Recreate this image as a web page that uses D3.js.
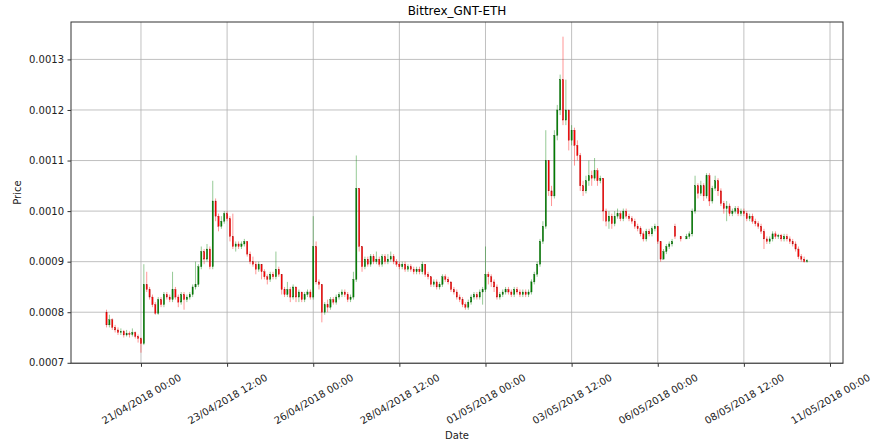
<!DOCTYPE html>
<html><head><meta charset="utf-8">
<script src="https://cdn.jsdelivr.net/npm/d3@7"></script>
<style>body{margin:0;background:#fff}</style>
</head><body>
<svg id="chart" width="873" height="444"></svg>
<script>
// 2-hour candles starting 20/04/2018 00:00 (UTC)
const startTime = Date.UTC(2018, 3, 20, 0, 0);
const stepHours = 2;

const opens = [8.0e-4,7.75e-4,7.85e-4,7.7e-4,7.65e-4,7.6e-4,7.62e-4,7.55e-4,7.58e-4,7.56e-4,7.6e-4,7.52e-4,7.48e-4,7.38e-4,8.55e-4,8.45e-4,8.3e-4,8.15e-4,7.98e-4,8.25e-4,8.15e-4,8.35e-4,8.3e-4,8.25e-4,8.45e-4,8.3e-4,8.2e-4,8.35e-4,8.25e-4,8.3e-4,8.35e-4,8.5e-4,8.55e-4,8.9e-4,9.2e-4,9.05e-4,9.25e-4,8.9e-4,10.2e-4,9.9e-4,9.7e-4,9.8e-4,9.95e-4,9.85e-4,9.5e-4,9.3e-4,9.35e-4,9.3e-4,9.35e-4,9.4e-4,9.15e-4,9.0e-4,8.95e-4,8.85e-4,8.95e-4,8.8e-4,8.7e-4,8.65e-4,8.75e-4,8.7e-4,8.85e-4,8.75e-4,8.45e-4,8.35e-4,8.45e-4,8.3e-4,8.5e-4,8.3e-4,8.4e-4,8.25e-4,8.35e-4,8.4e-4,8.3e-4,9.3e-4,8.6e-4,8.55e-4,8.0e-4,8.15e-4,8.1e-4,8.25e-4,8.2e-4,8.3e-4,8.35e-4,8.4e-4,8.35e-4,8.25e-4,8.3e-4,8.65e-4,10.45e-4,9.3e-4,8.9e-4,9.05e-4,8.95e-4,9.1e-4,9.0e-4,9.05e-4,8.95e-4,9.1e-4,9.0e-4,9.05e-4,9.1e-4,9.0e-4,8.95e-4,8.9e-4,8.95e-4,8.85e-4,8.9e-4,8.85e-4,8.8e-4,8.85e-4,8.8e-4,8.95e-4,8.75e-4,8.7e-4,8.55e-4,8.6e-4,8.5e-4,8.55e-4,8.7e-4,8.65e-4,8.6e-4,8.45e-4,8.4e-4,8.3e-4,8.25e-4,8.15e-4,8.1e-4,8.2e-4,8.3e-4,8.35e-4,8.3e-4,8.4e-4,8.45e-4,8.75e-4,8.7e-4,8.6e-4,8.5e-4,8.3e-4,8.35e-4,8.4e-4,8.45e-4,8.4e-4,8.35e-4,8.45e-4,8.4e-4,8.35e-4,8.4e-4,8.35e-4,8.4e-4,8.6e-4,8.75e-4,8.95e-4,9.4e-4,9.7e-4,11.0e-4,10.4e-4,10.3e-4,11.5e-4,12.0e-4,12.6e-4,11.8e-4,12.0e-4,11.4e-4,11.6e-4,11.3e-4,11.1e-4,10.5e-4,10.4e-4,10.6e-4,10.7e-4,10.65e-4,10.8e-4,10.6e-4,10.65e-4,10.0e-4,9.8e-4,9.9e-4,9.75e-4,9.9e-4,9.95e-4,9.85e-4,10.0e-4,9.9e-4,9.85e-4,9.8e-4,9.7e-4,9.65e-4,9.55e-4,9.45e-4,9.6e-4,9.55e-4,9.65e-4,9.7e-4,9.4e-4,9.05e-4,9.2e-4,9.3e-4,9.35e-4,9.7e-4,null,9.5e-4,null,9.45e-4,9.5e-4,9.55e-4,10.0e-4,10.5e-4,10.35e-4,10.5e-4,10.3e-4,10.7e-4,10.2e-4,10.45e-4,10.6e-4,10.4e-4,10.15e-4,10.05e-4,10.1e-4,9.95e-4,10.0e-4,10.05e-4,9.95e-4,10.0e-4,9.95e-4,9.85e-4,9.9e-4,9.8e-4,9.75e-4,9.7e-4,9.6e-4,9.45e-4,9.4e-4,9.45e-4,9.55e-4,9.5e-4,9.52e-4,9.45e-4,9.5e-4,9.45e-4,9.4e-4,9.35e-4,9.25e-4,9.1e-4,9.05e-4,9.0e-4];

const highs = [8.05e-4,7.95e-4,7.88e-4,7.75e-4,7.7e-4,7.68e-4,7.65e-4,7.65e-4,7.62e-4,7.68e-4,7.62e-4,7.56e-4,7.5e-4,8.95e-4,8.8e-4,8.5e-4,8.35e-4,8.2e-4,8.3e-4,8.3e-4,8.4e-4,8.4e-4,8.35e-4,8.8e-4,8.5e-4,8.35e-4,8.4e-4,8.4e-4,8.35e-4,8.4e-4,8.55e-4,9.0e-4,8.95e-4,9.3e-4,9.25e-4,9.35e-4,9.3e-4,10.6e-4,10.25e-4,9.95e-4,9.9e-4,10.0e-4,10.0e-4,9.9e-4,9.95e-4,9.4e-4,9.4e-4,9.4e-4,9.45e-4,9.4e-4,9.2e-4,9.1e-4,9.0e-4,9.0e-4,8.95e-4,8.85e-4,8.75e-4,8.8e-4,8.8e-4,9.2e-4,8.9e-4,8.75e-4,8.5e-4,8.6e-4,8.5e-4,8.55e-4,8.5e-4,8.45e-4,8.4e-4,8.4e-4,8.45e-4,8.45e-4,9.9e-4,9.4e-4,8.65e-4,8.55e-4,8.2e-4,8.25e-4,8.3e-4,8.3e-4,8.35e-4,8.4e-4,8.45e-4,8.45e-4,8.4e-4,8.35e-4,8.8e-4,11.1e-4,10.45e-4,9.3e-4,9.1e-4,9.1e-4,9.15e-4,9.15e-4,9.2e-4,9.1e-4,9.15e-4,9.15e-4,9.15e-4,9.2e-4,9.15e-4,9.05e-4,9.0e-4,9.0e-4,9.0e-4,8.95e-4,8.95e-4,8.9e-4,8.9e-4,8.9e-4,9.0e-4,8.95e-4,8.8e-4,8.7e-4,8.65e-4,8.65e-4,8.6e-4,8.75e-4,8.75e-4,8.7e-4,8.6e-4,8.5e-4,8.45e-4,8.35e-4,8.3e-4,8.2e-4,8.25e-4,8.35e-4,8.4e-4,8.4e-4,8.45e-4,8.5e-4,9.3e-4,8.8e-4,8.75e-4,8.65e-4,8.55e-4,8.4e-4,8.45e-4,8.5e-4,8.5e-4,8.45e-4,8.5e-4,8.5e-4,8.45e-4,8.45e-4,8.45e-4,8.45e-4,8.65e-4,8.8e-4,9.0e-4,9.45e-4,9.8e-4,11.6e-4,11.0e-4,10.5e-4,11.6e-4,12.1e-4,12.7e-4,13.45e-4,12.6e-4,12.0e-4,11.7e-4,11.65e-4,11.4e-4,11.15e-4,10.6e-4,10.7e-4,11.0e-4,10.8e-4,11.05e-4,10.85e-4,10.7e-4,10.65e-4,10.05e-4,10.0e-4,9.95e-4,10.0e-4,10.05e-4,10.0e-4,10.05e-4,10.05e-4,9.95e-4,9.9e-4,9.85e-4,9.75e-4,9.7e-4,9.6e-4,9.65e-4,9.65e-4,9.7e-4,9.75e-4,9.7e-4,9.4e-4,9.25e-4,9.35e-4,9.4e-4,9.45e-4,9.75e-4,null,9.5e-4,null,9.55e-4,9.6e-4,10.05e-4,10.7e-4,10.55e-4,10.6e-4,10.55e-4,10.75e-4,10.75e-4,10.5e-4,10.7e-4,10.65e-4,10.45e-4,10.2e-4,10.2e-4,10.15e-4,10.05e-4,10.1e-4,10.1e-4,10.05e-4,10.05e-4,10.0e-4,9.95e-4,9.95e-4,9.85e-4,9.8e-4,9.75e-4,9.65e-4,9.5e-4,9.5e-4,9.6e-4,9.6e-4,9.55e-4,9.55e-4,9.55e-4,9.55e-4,9.5e-4,9.45e-4,9.4e-4,9.3e-4,9.15e-4,9.1e-4,9.05e-4];

const lows = [7.7e-4,7.7e-4,7.65e-4,7.6e-4,7.55e-4,7.55e-4,7.5e-4,7.52e-4,7.5e-4,7.52e-4,7.48e-4,7.4e-4,7.2e-4,7.35e-4,8.4e-4,8.25e-4,8.1e-4,7.95e-4,7.95e-4,8.1e-4,8.1e-4,8.25e-4,8.2e-4,8.2e-4,8.25e-4,8.1e-4,8.15e-4,8.05e-4,8.2e-4,8.25e-4,8.3e-4,8.45e-4,8.5e-4,8.85e-4,8.95e-4,9.0e-4,8.85e-4,8.85e-4,9.8e-4,9.6e-4,9.65e-4,9.75e-4,9.8e-4,9.4e-4,9.25e-4,9.2e-4,9.25e-4,9.25e-4,9.3e-4,9.1e-4,8.95e-4,8.9e-4,8.75e-4,8.8e-4,8.65e-4,8.65e-4,8.55e-4,8.6e-4,8.65e-4,8.65e-4,8.7e-4,8.35e-4,8.3e-4,8.3e-4,8.2e-4,8.25e-4,8.2e-4,8.2e-4,8.2e-4,8.2e-4,8.3e-4,8.25e-4,8.25e-4,8.55e-4,8.45e-4,7.8e-4,7.95e-4,8.0e-4,8.05e-4,8.15e-4,8.15e-4,8.25e-4,8.3e-4,8.3e-4,8.2e-4,8.2e-4,8.25e-4,8.6e-4,9.2e-4,8.8e-4,8.85e-4,8.9e-4,8.9e-4,8.95e-4,8.95e-4,8.9e-4,8.9e-4,8.95e-4,8.95e-4,9.0e-4,8.95e-4,8.9e-4,8.85e-4,8.85e-4,8.8e-4,8.8e-4,8.8e-4,8.75e-4,8.75e-4,8.75e-4,8.75e-4,8.7e-4,8.65e-4,8.5e-4,8.5e-4,8.45e-4,8.45e-4,8.5e-4,8.6e-4,8.55e-4,8.4e-4,8.35e-4,8.25e-4,8.2e-4,8.1e-4,8.05e-4,8.05e-4,8.15e-4,8.25e-4,8.25e-4,8.25e-4,8.15e-4,8.4e-4,8.55e-4,8.5e-4,8.4e-4,8.25e-4,8.25e-4,8.3e-4,8.35e-4,8.35e-4,8.3e-4,8.3e-4,8.35e-4,8.3e-4,8.3e-4,8.3e-4,8.3e-4,8.35e-4,8.55e-4,8.7e-4,8.9e-4,9.35e-4,9.65e-4,10.3e-4,10.1e-4,10.25e-4,11.4e-4,11.9e-4,11.7e-4,11.7e-4,11.2e-4,11.3e-4,10.9e-4,11.0e-4,10.4e-4,10.3e-4,10.35e-4,10.5e-4,10.5e-4,10.6e-4,10.5e-4,10.55e-4,9.8e-4,9.7e-4,9.65e-4,9.65e-4,9.7e-4,9.85e-4,9.8e-4,9.8e-4,9.85e-4,9.8e-4,9.75e-4,9.65e-4,9.6e-4,9.5e-4,9.4e-4,9.4e-4,9.5e-4,9.5e-4,9.6e-4,9.35e-4,9.0e-4,9.05e-4,9.15e-4,9.25e-4,9.3e-4,9.45e-4,null,9.4e-4,null,9.45e-4,9.45e-4,9.5e-4,9.95e-4,10.25e-4,10.3e-4,10.2e-4,10.25e-4,10.1e-4,10.15e-4,10.4e-4,10.3e-4,10.1e-4,9.95e-4,9.8e-4,9.9e-4,9.9e-4,9.95e-4,9.9e-4,9.9e-4,9.9e-4,9.8e-4,9.8e-4,9.75e-4,9.7e-4,9.65e-4,9.55e-4,9.25e-4,9.35e-4,9.35e-4,9.4e-4,9.45e-4,9.45e-4,9.4e-4,9.4e-4,9.4e-4,9.35e-4,9.3e-4,9.2e-4,9.05e-4,9.0e-4,8.98e-4,8.98e-4];

const closes = [7.75e-4,7.85e-4,7.7e-4,7.65e-4,7.6e-4,7.62e-4,7.55e-4,7.58e-4,7.56e-4,7.6e-4,7.52e-4,7.48e-4,7.38e-4,8.55e-4,8.45e-4,8.3e-4,8.15e-4,7.98e-4,8.25e-4,8.15e-4,8.35e-4,8.3e-4,8.25e-4,8.45e-4,8.3e-4,8.2e-4,8.35e-4,8.25e-4,8.3e-4,8.35e-4,8.5e-4,8.55e-4,8.9e-4,9.2e-4,9.05e-4,9.25e-4,8.9e-4,10.2e-4,9.9e-4,9.7e-4,9.8e-4,9.95e-4,9.85e-4,9.5e-4,9.3e-4,9.35e-4,9.3e-4,9.35e-4,9.4e-4,9.15e-4,9.0e-4,8.95e-4,8.85e-4,8.95e-4,8.8e-4,8.7e-4,8.65e-4,8.75e-4,8.7e-4,8.85e-4,8.75e-4,8.45e-4,8.35e-4,8.45e-4,8.3e-4,8.5e-4,8.3e-4,8.4e-4,8.25e-4,8.35e-4,8.4e-4,8.3e-4,9.3e-4,8.6e-4,8.55e-4,8.0e-4,8.15e-4,8.1e-4,8.25e-4,8.2e-4,8.3e-4,8.35e-4,8.4e-4,8.35e-4,8.25e-4,8.3e-4,8.65e-4,10.45e-4,9.3e-4,8.9e-4,9.05e-4,8.95e-4,9.1e-4,9.0e-4,9.05e-4,8.95e-4,9.1e-4,9.0e-4,9.05e-4,9.1e-4,9.0e-4,8.95e-4,8.9e-4,8.95e-4,8.85e-4,8.9e-4,8.85e-4,8.8e-4,8.85e-4,8.8e-4,8.95e-4,8.75e-4,8.7e-4,8.55e-4,8.6e-4,8.5e-4,8.55e-4,8.7e-4,8.65e-4,8.6e-4,8.45e-4,8.4e-4,8.3e-4,8.25e-4,8.15e-4,8.1e-4,8.2e-4,8.3e-4,8.35e-4,8.3e-4,8.4e-4,8.45e-4,8.75e-4,8.7e-4,8.6e-4,8.5e-4,8.3e-4,8.35e-4,8.4e-4,8.45e-4,8.4e-4,8.35e-4,8.45e-4,8.4e-4,8.35e-4,8.4e-4,8.35e-4,8.4e-4,8.6e-4,8.75e-4,8.95e-4,9.4e-4,9.7e-4,11.0e-4,10.4e-4,10.3e-4,11.5e-4,12.0e-4,12.6e-4,11.8e-4,12.0e-4,11.4e-4,11.6e-4,11.3e-4,11.1e-4,10.5e-4,10.4e-4,10.6e-4,10.7e-4,10.65e-4,10.8e-4,10.6e-4,10.65e-4,10.0e-4,9.8e-4,9.9e-4,9.75e-4,9.9e-4,9.95e-4,9.85e-4,10.0e-4,9.9e-4,9.85e-4,9.8e-4,9.7e-4,9.65e-4,9.55e-4,9.45e-4,9.6e-4,9.55e-4,9.65e-4,9.7e-4,9.4e-4,9.05e-4,9.2e-4,9.3e-4,9.35e-4,9.4e-4,9.5e-4,null,9.45e-4,null,9.5e-4,9.55e-4,10.0e-4,10.5e-4,10.35e-4,10.5e-4,10.3e-4,10.7e-4,10.2e-4,10.45e-4,10.6e-4,10.4e-4,10.15e-4,10.05e-4,10.1e-4,9.95e-4,10.0e-4,10.05e-4,9.95e-4,10.0e-4,9.95e-4,9.85e-4,9.9e-4,9.8e-4,9.75e-4,9.7e-4,9.6e-4,9.45e-4,9.4e-4,9.45e-4,9.55e-4,9.5e-4,9.52e-4,9.45e-4,9.5e-4,9.45e-4,9.4e-4,9.35e-4,9.25e-4,9.1e-4,9.05e-4,9.0e-4,9.02e-4];

const yTickValues = [0.0007, 0.0008, 0.0009, 0.0010, 0.0011, 0.0012, 0.0013];
const xTickLabels = ["21/04/2018 00:00","23/04/2018 12:00","26/04/2018 00:00","28/04/2018 12:00","01/05/2018 00:00","03/05/2018 12:00","06/05/2018 00:00","08/05/2018 12:00","11/05/2018 00:00"];
const titleText = "Bittrex_GNT-ETH";
const xLabelText = "Date";
const yLabelText = "Price";

const svg = d3.select("#chart");
const plot = {left: 71, right: 843, top: 22, bottom: 363.3};
const FONT = "DejaVu Sans, sans-serif";

const parseT = d3.utcParse("%d/%m/%Y %H:%M");
const fmtT = d3.utcFormat("%d/%m/%Y %H:%M");
const x = d3.scaleUtc()
  .domain([new Date(Date.UTC(2018,3,18,23,15)), new Date(Date.UTC(2018,4,11,9,3))])
  .range([plot.left, plot.right]);
const y = d3.scaleLinear().domain([0.000699, 0.001374]).range([plot.bottom, plot.top]);

const data = closes.map((c, i) => ({
  t: new Date(startTime + i * stepHours * 3600e3),
  o: opens[i], h: highs[i], l: lows[i], c: c
})).filter(d => d.c != null);

const xTicks = xTickLabels.map(parseT);

// grid
const grid = svg.append("g");
grid.selectAll("line.gx").data(xTicks).enter().append("line")
  .attr("x1", d => x(d)).attr("x2", d => x(d))
  .attr("y1", plot.top).attr("y2", plot.bottom)
  .attr("stroke", "#b0b0b0").attr("stroke-width", 0.8);
grid.selectAll("line.gy").data(yTickValues).enter().append("line")
  .attr("x1", plot.left).attr("x2", plot.right)
  .attr("y1", d => y(d)).attr("y2", d => y(d))
  .attr("stroke", "#b0b0b0").attr("stroke-width", 0.8);

// candles
const bw = (x(new Date(startTime + stepHours * 3600e3)) - x(new Date(startTime))) * 0.45;
const cg = svg.append("g");
const col = d => d.c >= d.o ? "#008000" : "#ff0000";
cg.selectAll("line.wick").data(data).enter().append("line")
  .attr("x1", d => x(d.t)).attr("x2", d => x(d.t))
  .attr("y1", d => y(d.h)).attr("y2", d => y(d.l))
  .attr("stroke", col).attr("stroke-width", 0.6).attr("stroke-opacity", 0.7);
cg.selectAll("rect.body").data(data).enter().append("rect")
  .attr("x", d => x(d.t) - bw / 2).attr("width", bw)
  .attr("y", d => y(Math.max(d.o, d.c)))
  .attr("height", d => Math.max(0.8, Math.abs(y(d.o) - y(d.c))))
  .attr("fill", col)
  .attr("stroke", d => d.c >= d.o ? "#0b5a0b" : "#a01515").attr("stroke-width", 0.3);

// frame
svg.append("rect").attr("x", plot.left).attr("y", plot.top)
  .attr("width", plot.right - plot.left).attr("height", plot.bottom - plot.top)
  .attr("fill", "none").attr("stroke", "#333").attr("stroke-width", 1);

// x axis
const xa = svg.append("g").attr("transform", `translate(0,${plot.bottom})`)
  .call(d3.axisBottom(x).tickValues(xTicks).tickSize(3.5).tickFormat(fmtT));
xa.select(".domain").remove();
xa.selectAll(".tick line").attr("stroke", "#333");
xa.selectAll(".tick text")
  .attr("font-family", FONT).attr("font-size", 10).attr("fill", "#222")
  .attr("text-anchor", "middle").attr("dy", null).attr("y", 0)
  .attr("dominant-baseline", "central")
  .attr("transform", "translate(0,35.7) rotate(-30)");

// y axis
const ya = svg.append("g").attr("transform", `translate(${plot.left},0)`)
  .call(d3.axisLeft(y).tickValues(yTickValues).tickSize(3.5).tickPadding(3.5).tickFormat(d3.format(".4f")));
ya.select(".domain").remove();
ya.selectAll(".tick line").attr("stroke", "#333");
ya.selectAll(".tick text").attr("font-family", FONT).attr("font-size", 10).attr("fill", "#222");

// labels
svg.append("text").attr("x", (plot.left + plot.right) / 2).attr("y", 15)
  .attr("text-anchor", "middle").attr("font-family", FONT).attr("font-size", 12).attr("fill", "#000")
  .text(titleText);
svg.append("text").attr("x", (plot.left + plot.right) / 2).attr("y", 439)
  .attr("text-anchor", "middle").attr("font-family", FONT).attr("font-size", 10).attr("fill", "#222")
  .text(xLabelText);
svg.append("text").attr("transform", `translate(21,${(plot.top + plot.bottom) / 2}) rotate(-90)`)
  .attr("text-anchor", "middle").attr("font-family", FONT).attr("font-size", 10).attr("fill", "#222")
  .text(yLabelText);
</script>
</body></html>
